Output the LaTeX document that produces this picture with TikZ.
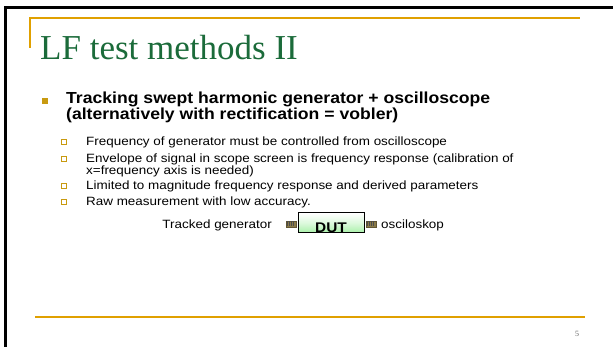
\documentclass[tikz,border=0pt]{standalone}
\usepackage{fontspec}
\setmainfont{Liberation Sans}
\newfontfamily\titlefont{Liberation Serif}
\newfontfamily\subfont[FakeStretch=1.12]{Liberation Sans}
\newfontfamily\boldwide[FakeStretch=1.1,FakeBold=0]{Liberation Sans Bold}
\definecolor{gold}{HTML}{E0A000}
\definecolor{titlegreen}{HTML}{1B6B3A}
\definecolor{bulletgold}{HTML}{C89A10}
\definecolor{stubbrown}{HTML}{8A7A48}
\definecolor{dutgreen}{HTML}{A8F0A8}
\tikzset{
  goldline/.style={draw=gold, line width=1.3pt},
  frameline/.style={draw=black, line width=3pt},
  txt/.style={inner sep=0pt, anchor=base west},
  subtxt/.style={txt, font=\subfont\fontsize{12}{12}\selectfont},
  maintxt/.style={txt, font=\boldwide\fontsize{16}{16}\selectfont},
  subbullet/.style={draw=bulletgold, fill=white, minimum size=4.5pt, inner sep=0pt, line width=0.7pt},
  stub/.style={fill=stubbrown, draw=stubbrown!70!black, line width=0.4pt, minimum width=10pt, minimum height=5.5pt, inner sep=0pt},
}
\begin{document}
\begin{tikzpicture}[x=1pt,y=-1pt]
\useasboundingbox (0,0) rectangle (613,347);
% frame
\draw[frameline] (4,8) -- (613,8);
\draw[frameline] (5.5,6.5) -- (5.5,347);
% title lines
\draw[goldline] (30,48) -- (30,18) -- (580,18);
\draw[goldline] (35,317) -- (585,317);
% title
\node[txt, text=titlegreen, font=\titlefont\fontsize{35}{36}\selectfont] (title) at (40,60) {LF test methods II};
% main bullet
\node[fill=bulletgold, minimum size=5.5pt, inner sep=0pt] (b1) at (45,101) {};
\node[maintxt] (l1) at (66,104) {Tracking swept harmonic generator + oscilloscope};
\node[maintxt] (l2) at (66,120) {(alternatively with rectification = vobler)};
% sub bullets
\node[subbullet] (s1) at (64,142) {};
\node[subtxt] (t1) at (86,146) {Frequency of generator must be controlled from oscilloscope};
\node[subbullet] (s2) at (64,159) {};
\node[subtxt] (t2) at (86,163) {Envelope of signal in scope screen is frequency response (calibration of};
\node[subtxt] (t2b) at (86,175) {x=frequency axis is needed)};
\node[subbullet] (s3) at (64,186) {};
\node[subtxt] (t3) at (86,190) {Limited to magnitude frequency response and derived parameters};
\node[subbullet] (s4) at (64,202) {};
\node[subtxt] (t4) at (86,206) {Raw measurement with low accuracy.};
% DUT row
\node[subtxt, anchor=base east] (gen) at (272,229) {Tracked generator};
\node[stub] (ls) at (291,224) {};
\foreach \xx in {287.5,289.5,291.5,293.5}
  \draw[black!70, line width=0.5pt] (\xx,221.5) -- (\xx,226.5);
\shade[top color=white, bottom color=dutgreen, middle color=dutgreen!40] (298,213) rectangle (364,233);
\draw[black, line width=1pt] (298,213) rectangle (364,233);
\node[txt, font=\boldwide\fontsize{14}{14}\selectfont, anchor=base] (dut) at (331,233) {DUT};
\node[stub] (rs) at (371,224) {};
\foreach \xx in {367.5,369.5,371.5,373.5}
  \draw[black!70, line width=0.5pt] (\xx,221.5) -- (\xx,226.5);
\node[subtxt] (osc) at (381,229) {osciloskop};
% page number
\node[anchor=base, inner sep=0pt, text=black!60, font=\titlefont\fontsize{8}{8}\selectfont] (pg) at (577,337) {5};
\end{tikzpicture}
\end{document}
